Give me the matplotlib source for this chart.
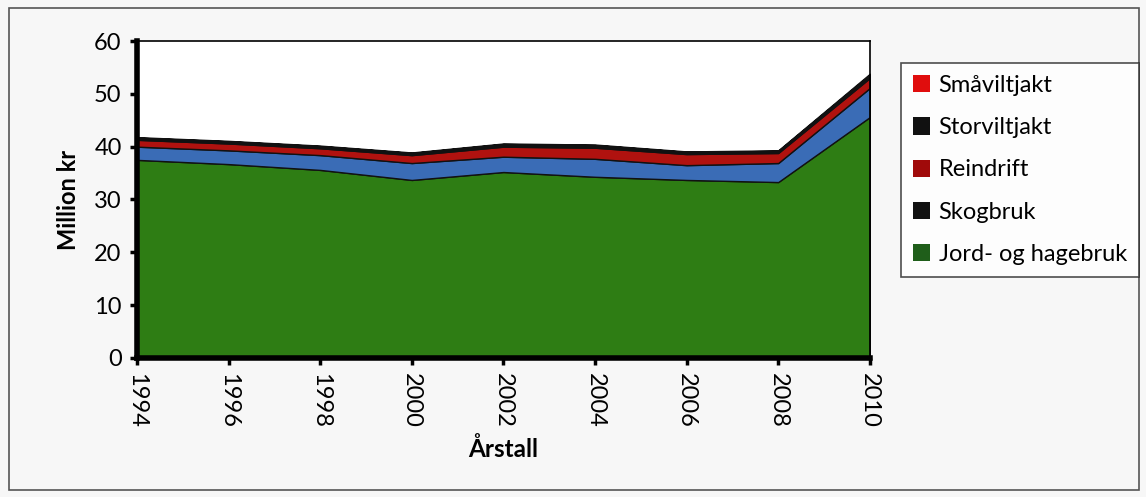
import matplotlib.pyplot as plt
from matplotlib.patches import Patch, Rectangle

plt.rcParams['font.family'] = ['Lato', 'DejaVu Sans']

# Data (Million kr)
years = [1994, 1996, 1998, 2000, 2002, 2004, 2006, 2008, 2010]
jord = [37.5, 36.7, 35.6, 33.7, 35.2, 34.3, 33.7, 33.3, 45.6]
skog = [2.5, 2.6, 2.8, 3.2, 2.9, 3.4, 2.8, 3.6, 5.5]
rein = [1.3, 1.3, 1.3, 1.5, 1.9, 2.1, 2.1, 1.9, 1.9]
storvilt = [0.4, 0.4, 0.4, 0.4, 0.5, 0.5, 0.4, 0.4, 0.6]
smavilt = [0.1, 0.1, 0.1, 0.1, 0.1, 0.1, 0.1, 0.1, 0.2]

labels = ["Jord- og hagebruk", "Skogbruk", "Reindrift", "Storviltjakt", "Småviltjakt"]
area_colors = ["#2e7d14", "#3a6cb6", "#b0120f", "#111111", "#e01010"]
legend_colors = ["#1f5e1a", "#111111", "#a00a0a", "#111111", "#e00d0d"]

fig = plt.figure(figsize=(11.46, 4.97), dpi=100)
fig.patch.set_facecolor("#f7f7f7")
fig.patches.append(Rectangle((0.008, 0.014), 0.986, 0.97, transform=fig.transFigure,
                             fill=False, edgecolor="#555555", lw=1.2))

ax = fig.add_axes([0.1195, 0.2797, 0.6395, 0.6378])
ax.stackplot(years, jord, skog, rein, storvilt, smavilt, colors=area_colors,
             edgecolor="#111111", linewidth=1.0)

ax.set_xlim(1994, 2010)
ax.set_ylim(0, 60)
ax.set_xticks(years)
ax.set_xticklabels([str(y) for y in years], rotation=-90, fontsize=17)
ax.set_yticks(range(0, 61, 10))
ax.tick_params(axis='y', labelsize=17, length=5, width=2.5, pad=6)
ax.tick_params(axis='x', length=5, width=2.5, pad=6)

ax.spines['left'].set_linewidth(4)
ax.spines['bottom'].set_linewidth(4)
ax.spines['top'].set_linewidth(1.2)
ax.spines['right'].set_linewidth(1.2)

ax.set_ylabel("Million kr", fontsize=17, fontweight='bold', labelpad=10)
ax.set_xlabel("Årstall", fontsize=17.5, fontweight='bold', labelpad=6)

handles = [Patch(facecolor=c, edgecolor='none') for c in legend_colors[::-1]]
leg = fig.legend(handles, labels[::-1], loc='upper left', bbox_to_anchor=(0.786, 0.873),
                 fontsize=17, frameon=True, fancybox=False, edgecolor="#222222",
                 handlelength=0.75, handleheight=0.75, handletextpad=0.35,
                 labelspacing=0.9, borderpad=0.5, borderaxespad=0)
leg.get_frame().set_linewidth(1.2)

fig.savefig("out.png", dpi=100, facecolor=fig.get_facecolor())
